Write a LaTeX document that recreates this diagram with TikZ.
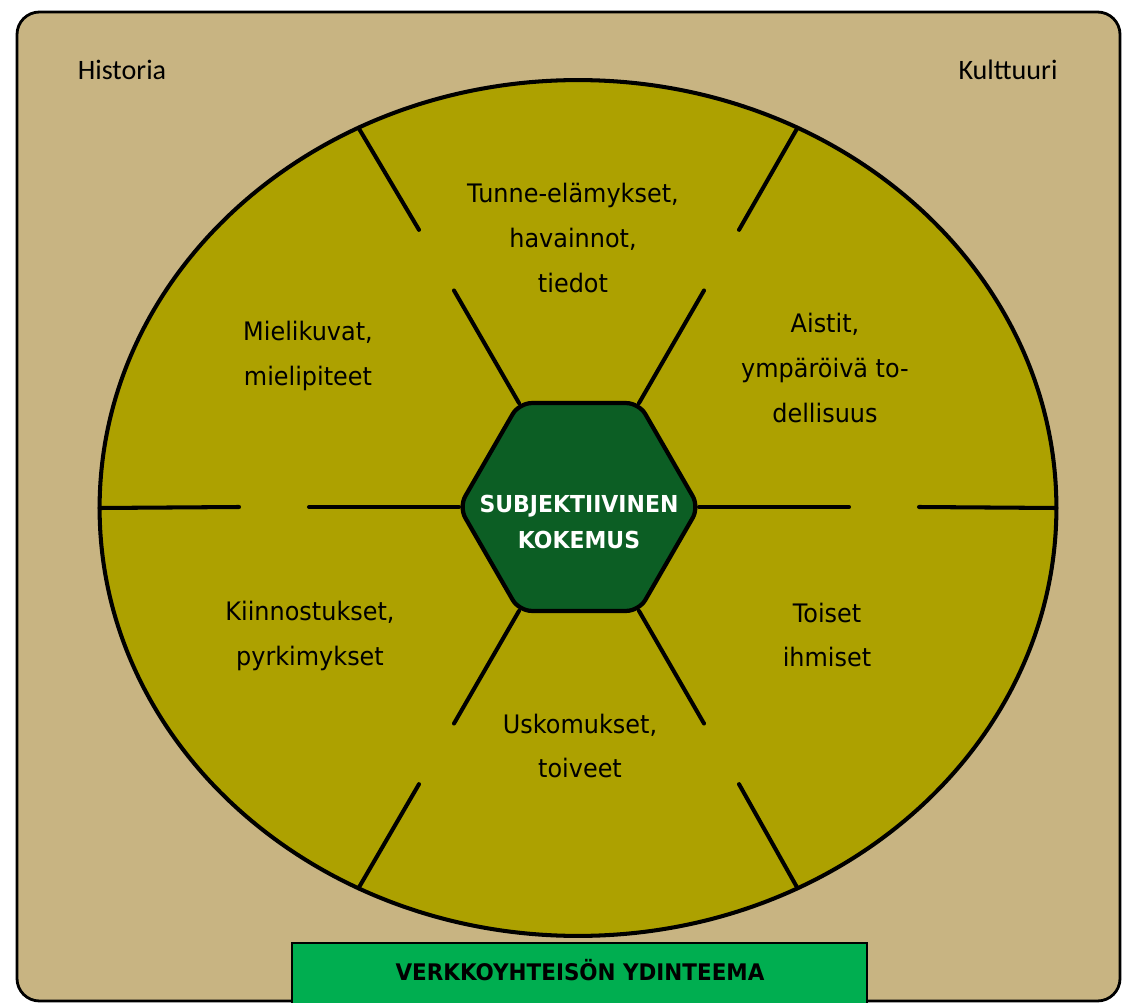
\documentclass[tikz,border=0pt]{standalone}
\usepackage{fontspec}
\setmainfont{DejaVu Sans}[FakeStretch=0.94]
\newfontfamily\cornerfont{Carlito}
\usepackage{tikz}
\usetikzlibrary{
    positioning,
    calc,
    shapes.geometric,
}
\definecolor{sandbg}{HTML}{C8B482}
\definecolor{olivefill}{HTML}{ADA100}
\definecolor{hubgreen}{HTML}{0C5E24}
\definecolor{coregreen}{HTML}{00AE50}

\tikzset{
    spoke/.style={line width=2.3pt, line cap=round},
    area/.style={align=center, font=\fontsize{14.5}{25.5}\selectfont},
    cornerlabel/.style={font=\cornerfont\fontsize{16}{18}\selectfont},
    hublabel/.style={align=center, text=white,
                     font=\bfseries\fontsize{13.3}{20.5}\selectfont},
    corebox/.style={draw, line width=1pt, fill=coregreen, inner sep=0pt,
                    minimum width=11.5cm, minimum height=1.8cm},
}

\begin{document}
\begin{tikzpicture}[x=0.02cm,y=0.02cm]
                        \pgfmathsetmacro\InR{250}
                        \pgfmathsetmacro\OutR{320}
                        \pgfmathsetmacro\InH{270}
                        \pgfmathsetmacro\OutH{340}
                        \useasboundingbox (0,0) rectangle (1122,-1003);
                        %
                            % Sfondo
                        \draw[fill=sandbg, line width=1.6pt, rounded corners=0.45cm]
                            (17,-12) rectangle (1120,-1001);
                        \node[cornerlabel] (hist) at (122,-70) {Historia};
                        \node[cornerlabel] (cult) at (1008,-70) {Kulttuuri};
                        %
                            % Ellisse
                        \node[ellipse, draw, line width=2.3pt, fill=olivefill,
                              minimum width=19.14cm, minimum height=17.12cm,
                              inner sep=0pt, outer sep=0pt]
                            (oval) at (578,-508) {};
                        %
                            % Esagono
                        \node[regular polygon, regular polygon sides=6, draw,
                              line width=2.4pt, fill=hubgreen, minimum size=4.8cm,
                              inner sep=0pt, outer sep=0pt, rounded corners=0.25cm]
                            (hub) at (579,-507) {};
                        \node[hublabel] (hubtxt) at (579,-522) {SUBJEKTIIVINEN\\KOKEMUS};
                        %
                            % Raggi
                        \coordinate (nwIn)  at ($(hub.center)+(120:\InR)$);
                        \coordinate (nwOut) at ($(hub.center)+(120:\OutR)$);
                        \coordinate (wIn)   at ($(hub.center)+(180:\InH)$);
                        \coordinate (wOut)  at ($(hub.center)+(180:\OutH)$);
                        \coordinate (swIn)  at ($(hub.center)+(240:\InR)$);
                        \coordinate (swOut) at ($(hub.center)+(240:\OutR)$);
                        \coordinate (seIn)  at ($(hub.center)+(300:\InR)$);
                        \coordinate (seOut) at ($(hub.center)+(300:\OutR)$);
                        \coordinate (eIn)   at ($(hub.center)+(0:\InH)$);
                        \coordinate (eOut)  at ($(hub.center)+(0:\OutH)$);
                        \coordinate (neIn)  at ($(hub.center)+(60:\InR)$);
                        \coordinate (neOut) at ($(hub.center)+(60:\OutR)$);
                        %
                        \draw[spoke] (hub.corner 2) -- (nwIn);
                        \draw[spoke] (nwOut) -- (oval.120);
                        \draw[spoke] (hub.corner 3) -- (wIn);
                        \draw[spoke] (wOut) -- (oval.180);
                        \draw[spoke] (hub.corner 4) -- (swIn);
                        \draw[spoke] (swOut) -- (oval.240);
                        \draw[spoke] (hub.corner 5) -- (seIn);
                        \draw[spoke] (seOut) -- (oval.300);
                        \draw[spoke] (hub.corner 6) -- (eIn);
                        \draw[spoke] (eOut) -- (oval.0);
                        \draw[spoke] (hub.corner 1) -- (neIn);
                        \draw[spoke] (neOut) -- (oval.60);
                        %
                            % Settori
                        \node[area] (feel)     at (573,-238) {Tunne-elämykset,\\havainnot,\\tiedot};
                        \node[area] (image)    at (308,-356) {Mielikuvat,\\mielipiteet};
                        \node[area] (senses)   at (825,-368) {Aistit,\\ympäröivä to-\\dellisuus};
                        \node[area] (interest) at (310,-636) {Kiinnostukset,\\pyrkimykset};
                        \node[area] (others)   at (827,-635) {Toiset\\ihmiset};
                        \node[area] (belief)   at (580,-746) {Uskomukset,\\toiveet};
                        %
                            % Ydinteema
                        \node[corebox, anchor=north] (core) at (579.5,-942) {};
                        \node[font=\bfseries\fontsize{13}{16}\selectfont]
                            (coretxt) at (580,-970) {VERKKOYHTEISÖN YDINTEEMA};
                    \end{tikzpicture}
\end{document}
